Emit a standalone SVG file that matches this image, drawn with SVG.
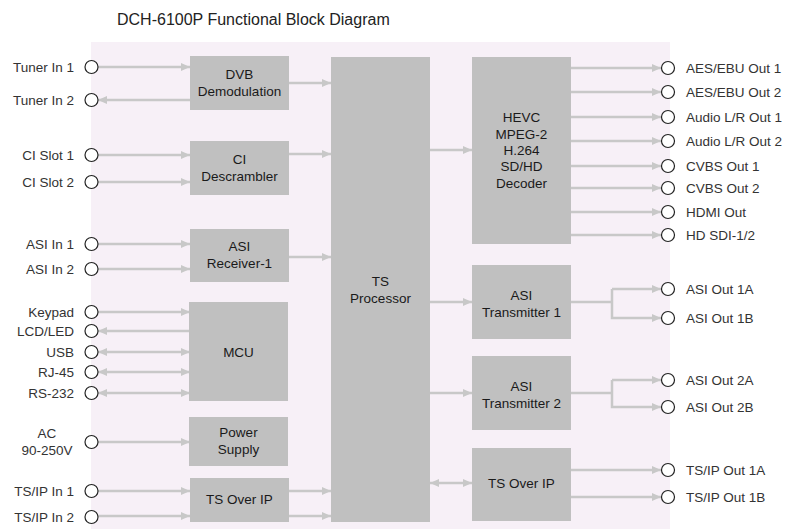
<svg xmlns="http://www.w3.org/2000/svg" width="792" height="529" viewBox="0 0 792 529">
<style>
.bg{fill:#f7f0f7}
.box{fill:#c0c0c0}
.port{fill:#ffffff;stroke:#222222;stroke-width:1.2}
.lbl{font-family:"Liberation Sans",Arial,sans-serif;font-size:13.5px;fill:#333333}
.bt{font-family:"Liberation Sans",Arial,sans-serif;font-size:13.5px;fill:#1a1a1a;text-anchor:middle}
.title{font-family:"Liberation Sans",Arial,sans-serif;font-size:16px;fill:#222222}
.end{text-anchor:end}
.mid{text-anchor:middle}
.c{fill:none;stroke:#c8c8c8;stroke-width:2.5}
.a{marker-end:url(#ah)}
.s{marker-start:url(#ah)}
</style>
<defs>
<marker id="ah" markerUnits="userSpaceOnUse" markerWidth="10" markerHeight="10" refX="9" refY="5" orient="auto-start-reverse">
<path d="M0,1 L9,5 L0,9 z" fill="#c8c8c8"/>
</marker>
</defs>
<rect class="bg" x="91" y="42" width="579" height="487"/>
<text class="title" x="117" y="25">DCH-6100P Functional Block Diagram</text>

<g id="connectors">
<!-- left inputs -->
<line class="c a" x1="98" y1="67" x2="190" y2="67"/>
<line class="c a" x1="190" y1="100" x2="98" y2="100"/>
<line class="c a" x1="98" y1="155" x2="190" y2="155"/>
<line class="c a" x1="98" y1="182" x2="190" y2="182"/>
<line class="c a" x1="98" y1="244" x2="190" y2="244"/>
<line class="c a" x1="98" y1="269" x2="190" y2="269"/>
<line class="c a" x1="98" y1="312" x2="190" y2="312"/>
<line class="c a" x1="190" y1="331" x2="98" y2="331"/>
<line class="c a s" x1="98" y1="352" x2="190" y2="352"/>
<line class="c a s" x1="98" y1="372" x2="190" y2="372"/>
<line class="c a s" x1="98" y1="393" x2="190" y2="393"/>
<line class="c a" x1="98" y1="442" x2="190" y2="442"/>
<line class="c a" x1="98" y1="491" x2="190" y2="491"/>
<line class="c a" x1="98" y1="516" x2="190" y2="516"/>
<!-- to TS processor -->
<line class="c a" x1="289" y1="83" x2="331" y2="83"/>
<line class="c a" x1="289" y1="154" x2="331" y2="154"/>
<line class="c a" x1="289" y1="257" x2="331" y2="257"/>
<line class="c a" x1="289" y1="491" x2="331" y2="491"/>
<line class="c a" x1="289" y1="516" x2="331" y2="516"/>
<!-- from TS processor -->
<line class="c a" x1="430" y1="150" x2="472" y2="150"/>
<line class="c a" x1="430" y1="302" x2="472" y2="302"/>
<line class="c a" x1="430" y1="393" x2="472" y2="393"/>
<line class="c a s" x1="430" y1="483" x2="472" y2="483"/>
<!-- decoder outputs -->
<line class="c a" x1="571" y1="68" x2="661" y2="68"/>
<line class="c a" x1="571" y1="92" x2="661" y2="92"/>
<line class="c a" x1="571" y1="117" x2="661" y2="117"/>
<line class="c a" x1="571" y1="141" x2="661" y2="141"/>
<line class="c a" x1="571" y1="166" x2="661" y2="166"/>
<line class="c a" x1="571" y1="188" x2="661" y2="188"/>
<line class="c a" x1="571" y1="212" x2="661" y2="212"/>
<line class="c a" x1="571" y1="235" x2="661" y2="235"/>
<!-- ASI transmitter outputs -->
<polyline class="c" points="571,302 612,302"/>
<polyline class="c a" points="612,289 612,289 661,289"/>
<polyline class="c a" points="612,289 612,318 661,318"/>
<polyline class="c" points="571,393 612,393"/>
<polyline class="c a" points="612,380 661,380"/>
<polyline class="c a" points="612,380 612,407 661,407"/>
<!-- TS over IP outputs -->
<line class="c a" x1="571" y1="470" x2="661" y2="470"/>
<line class="c a" x1="571" y1="497" x2="661" y2="497"/>
</g>

<g id="dvb"><rect class="box" x="190" y="56" width="99" height="54"/><text class="bt" x="239.5" y="79">DVB</text><text class="bt" x="239.5" y="96">Demodulation</text></g>
<g id="ci"><rect class="box" x="190" y="141" width="99" height="54"/><text class="bt" x="239.5" y="164">CI</text><text class="bt" x="239.5" y="181">Descrambler</text></g>
<g id="asirx"><rect class="box" x="190" y="229" width="99" height="53"/><text class="bt" x="239.5" y="251">ASI</text><text class="bt" x="239.5" y="268">Receiver-1</text></g>
<g id="mcu"><rect class="box" x="189" y="302" width="99" height="99"/><text class="bt" x="238.5" y="357">MCU</text></g>
<g id="power"><rect class="box" x="189" y="417" width="99" height="49"/><text class="bt" x="238.5" y="437">Power</text><text class="bt" x="238.5" y="454">Supply</text></g>
<g id="tsip-in"><rect class="box" x="190" y="478" width="99" height="44"/><text class="bt" x="239.5" y="504">TS Over IP</text></g>
<g id="tsproc"><rect class="box" x="331" y="57" width="99" height="465"/><text class="bt" x="380.5" y="286">TS</text><text class="bt" x="380.5" y="303">Processor</text></g>
<g id="decoder"><rect class="box" x="472" y="57" width="99" height="187"/><text class="bt" x="521.5" y="122">HEVC</text><text class="bt" x="521.5" y="139">MPEG-2</text><text class="bt" x="521.5" y="155">H.264</text><text class="bt" x="521.5" y="171">SD/HD</text><text class="bt" x="521.5" y="188">Decoder</text></g>
<g id="asitx1"><rect class="box" x="472" y="265" width="99" height="74"/><text class="bt" x="521.5" y="300">ASI</text><text class="bt" x="521.5" y="317">Transmitter 1</text></g>
<g id="asitx2"><rect class="box" x="472" y="356" width="99" height="74"/><text class="bt" x="521.5" y="391">ASI</text><text class="bt" x="521.5" y="408">Transmitter 2</text></g>
<g id="tsip-out"><rect class="box" x="472" y="448" width="99" height="73"/><text class="bt" x="521.5" y="488">TS Over IP</text></g>

<g id="in-ports">
<circle class="port" cx="91.5" cy="67" r="6.5"/><text class="lbl end" x="74" y="72">Tuner In 1</text>
<circle class="port" cx="91.5" cy="100" r="6.5"/><text class="lbl end" x="74" y="105">Tuner In 2</text>
<circle class="port" cx="91.5" cy="155" r="6.5"/><text class="lbl end" x="74" y="160">CI Slot  1</text>
<circle class="port" cx="91.5" cy="182" r="6.5"/><text class="lbl end" x="74" y="187">CI Slot  2</text>
<circle class="port" cx="91.5" cy="244" r="6.5"/><text class="lbl end" x="74" y="249">ASI In 1</text>
<circle class="port" cx="91.5" cy="269" r="6.5"/><text class="lbl end" x="74" y="274">ASI In 2</text>
<circle class="port" cx="91.5" cy="312" r="6.5"/><text class="lbl end" x="74" y="317">Keypad</text>
<circle class="port" cx="91.5" cy="331" r="6.5"/><text class="lbl end" x="74" y="336">LCD/LED</text>
<circle class="port" cx="91.5" cy="352" r="6.5"/><text class="lbl end" x="74" y="357">USB</text>
<circle class="port" cx="91.5" cy="372" r="6.5"/><text class="lbl end" x="74" y="377">RJ-45</text>
<circle class="port" cx="91.5" cy="393" r="6.5"/><text class="lbl end" x="74" y="398">RS-232</text>
<circle class="port" cx="91.5" cy="442" r="6.5"/><text class="lbl mid" x="47" y="438">AC</text><text class="lbl mid" x="47" y="455">90-250V</text>
<circle class="port" cx="91.5" cy="491" r="6.5"/><text class="lbl end" x="74" y="496">TS/IP In 1</text>
<circle class="port" cx="91.5" cy="517" r="6.5"/><text class="lbl end" x="74" y="522">TS/IP In 2</text>
</g>

<g id="out-ports">
<circle class="port" cx="668" cy="68" r="6.5"/><text class="lbl" x="686" y="73">AES/EBU Out 1</text>
<circle class="port" cx="668" cy="92" r="6.5"/><text class="lbl" x="686" y="97">AES/EBU Out 2</text>
<circle class="port" cx="668" cy="117" r="6.5"/><text class="lbl" x="686" y="122">Audio L/R Out 1</text>
<circle class="port" cx="668" cy="141" r="6.5"/><text class="lbl" x="686" y="146">Audio L/R Out 2</text>
<circle class="port" cx="668" cy="166" r="6.5"/><text class="lbl" x="686" y="171">CVBS Out  1</text>
<circle class="port" cx="668" cy="188" r="6.5"/><text class="lbl" x="686" y="193">CVBS Out  2</text>
<circle class="port" cx="668" cy="212" r="6.5"/><text class="lbl" x="686" y="217">HDMI Out</text>
<circle class="port" cx="668" cy="235" r="6.5"/><text class="lbl" x="686" y="240">HD SDI-1/2</text>
<circle class="port" cx="668" cy="289" r="6.5"/><text class="lbl" x="686" y="294">ASI Out 1A</text>
<circle class="port" cx="668" cy="318" r="6.5"/><text class="lbl" x="686" y="323">ASI Out 1B</text>
<circle class="port" cx="668" cy="380" r="6.5"/><text class="lbl" x="686" y="385">ASI Out 2A</text>
<circle class="port" cx="668" cy="407" r="6.5"/><text class="lbl" x="686" y="412">ASI Out 2B</text>
<circle class="port" cx="668" cy="470" r="6.5"/><text class="lbl" x="686" y="475">TS/IP Out 1A</text>
<circle class="port" cx="668" cy="497" r="6.5"/><text class="lbl" x="686" y="502">TS/IP Out 1B</text>
</g>
</svg>
